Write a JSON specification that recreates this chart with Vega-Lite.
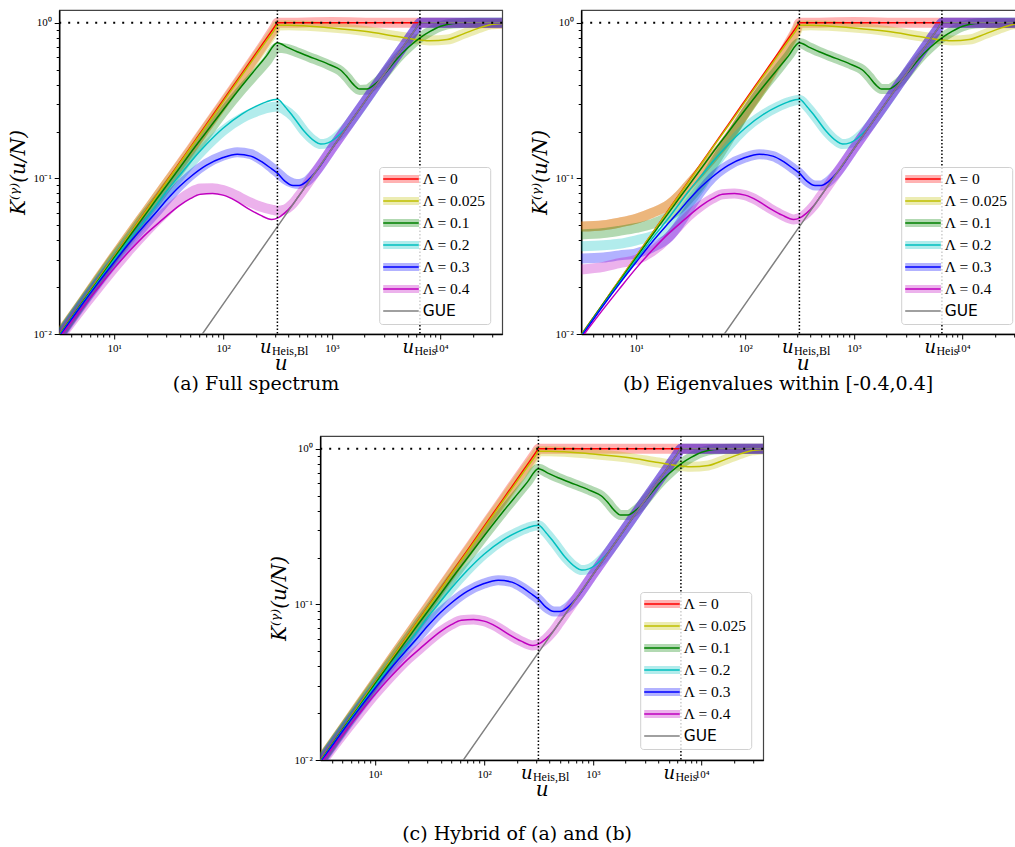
{
"$schema": "https://vega.github.io/schema/vega-lite/v6.json",
"background": "white",
"padding": {"left": 8, "top": 8, "right": 0, "bottom": 0},
"datasets": {"d": [
{"s":"0","u":3.12,"k":0.0099,"a":0.0099,"b":0.049},
{"s":"0","u":5,"k":0.0158,"a":0.0158,"b":0.05},
{"s":"0","u":7,"k":0.0222,"a":0.0222,"b":0.052},
{"s":"0","u":10,"k":0.0316,"a":0.0316,"b":0.055},
{"s":"0","u":14,"k":0.0443,"a":0.044,"b":0.06},
{"s":"0","u":20,"k":0.0633,"a":0.062,"b":0.068},
{"s":"0","u":25,"k":0.0791,"a":0.077,"b":0.078},
{"s":"0","u":30,"k":0.0949,"a":0.092,"b":0.09},
{"s":"0","u":40,"k":0.1266,"a":0.122,"b":0.113},
{"s":"0","u":50,"k":0.158,"a":0.152,"b":0.135},
{"s":"0","u":70,"k":0.2215,"a":0.213,"b":0.182},
{"s":"0","u":100,"k":0.3165,"a":0.303,"b":0.265},
{"s":"0","u":150,"k":0.4747,"a":0.455,"b":0.405},
{"s":"0","u":200,"k":0.633,"a":0.61,"b":0.56},
{"s":"0","u":250,"k":0.791,"a":0.77,"b":0.73},
{"s":"0","u":300,"k":0.949,"a":0.94,"b":0.92},
{"s":"0","u":316,"k":1,"a":1,"b":1},
{"s":"0","u":330,"k":1,"a":1,"b":1},
{"s":"0","u":1000,"k":1,"a":1.01,"b":1.01},
{"s":"0","u":3000,"k":1,"a":1,"b":1},
{"s":"0","u":10000,"k":1,"a":1,"b":1},
{"s":"0","u":36800,"k":1,"a":0.99,"b":0.99},
{"s":"0.025","u":3.12,"k":0.0099,"a":0.0099,"b":0.049},
{"s":"0.025","u":5,"k":0.0158,"a":0.0158,"b":0.05},
{"s":"0.025","u":7,"k":0.0222,"a":0.0222,"b":0.052},
{"s":"0.025","u":10,"k":0.0316,"a":0.0316,"b":0.055},
{"s":"0.025","u":14,"k":0.0442,"a":0.044,"b":0.06},
{"s":"0.025","u":20,"k":0.063,"a":0.062,"b":0.068},
{"s":"0.025","u":25,"k":0.0785,"a":0.077,"b":0.078},
{"s":"0.025","u":30,"k":0.094,"a":0.092,"b":0.09},
{"s":"0.025","u":40,"k":0.125,"a":0.121,"b":0.113},
{"s":"0.025","u":50,"k":0.156,"a":0.15,"b":0.135},
{"s":"0.025","u":70,"k":0.217,"a":0.21,"b":0.18},
{"s":"0.025","u":100,"k":0.31,"a":0.298,"b":0.26},
{"s":"0.025","u":150,"k":0.463,"a":0.445,"b":0.395},
{"s":"0.025","u":200,"k":0.615,"a":0.595,"b":0.55},
{"s":"0.025","u":250,"k":0.765,"a":0.745,"b":0.71},
{"s":"0.025","u":300,"k":0.91,"a":0.9,"b":0.89},
{"s":"0.025","u":316,"k":0.965,"a":0.96,"b":0.955},
{"s":"0.025","u":400,"k":0.965,"a":0.962,"b":0.962},
{"s":"0.025","u":1000,"k":0.925,"a":0.93,"b":0.93},
{"s":"0.025","u":2000,"k":0.88,"a":0.885,"b":0.885},
{"s":"0.025","u":4000,"k":0.815,"a":0.82,"b":0.82},
{"s":"0.025","u":6450,"k":0.775,"a":0.78,"b":0.78},
{"s":"0.025","u":8000,"k":0.765,"a":0.77,"b":0.77},
{"s":"0.025","u":11500,"k":0.78,"a":0.78,"b":0.78},
{"s":"0.025","u":16000,"k":0.845,"a":0.845,"b":0.845},
{"s":"0.025","u":23000,"k":0.93,"a":0.93,"b":0.93},
{"s":"0.025","u":29000,"k":0.975,"a":0.975,"b":0.975},
{"s":"0.025","u":36800,"k":0.99,"a":0.99,"b":0.99},
{"s":"0.1","u":3.12,"k":0.0098,"a":0.0098,"b":0.0436},
{"s":"0.1","u":5,"k":0.0157,"a":0.0157,"b":0.0445},
{"s":"0.1","u":7,"k":0.0218,"a":0.0218,"b":0.046},
{"s":"0.1","u":10,"k":0.031,"a":0.031,"b":0.048},
{"s":"0.1","u":14,"k":0.043,"a":0.0425,"b":0.051},
{"s":"0.1","u":20,"k":0.0605,"a":0.06,"b":0.057},
{"s":"0.1","u":25,"k":0.075,"a":0.073,"b":0.064},
{"s":"0.1","u":30,"k":0.089,"a":0.087,"b":0.073},
{"s":"0.1","u":40,"k":0.117,"a":0.113,"b":0.093},
{"s":"0.1","u":50,"k":0.145,"a":0.14,"b":0.12},
{"s":"0.1","u":70,"k":0.198,"a":0.19,"b":0.175},
{"s":"0.1","u":100,"k":0.275,"a":0.265,"b":0.262},
{"s":"0.1","u":150,"k":0.395,"a":0.375,"b":0.39},
{"s":"0.1","u":200,"k":0.505,"a":0.47,"b":0.5},
{"s":"0.1","u":250,"k":0.61,"a":0.56,"b":0.61},
{"s":"0.1","u":316,"k":0.744,"a":0.69,"b":0.74},
{"s":"0.1","u":390,"k":0.695,"a":0.68,"b":0.695},
{"s":"0.1","u":480,"k":0.651,"a":0.645,"b":0.651},
{"s":"0.1","u":685,"k":0.59,"a":0.585,"b":0.59},
{"s":"0.1","u":970,"k":0.535,"a":0.53,"b":0.535},
{"s":"0.1","u":1200,"k":0.497,"a":0.49,"b":0.497},
{"s":"0.1","u":1380,"k":0.45,"a":0.445,"b":0.45},
{"s":"0.1","u":1585,"k":0.4,"a":0.395,"b":0.4},
{"s":"0.1","u":1800,"k":0.375,"a":0.37,"b":0.375},
{"s":"0.1","u":2100,"k":0.375,"a":0.372,"b":0.375},
{"s":"0.1","u":2430,"k":0.398,"a":0.398,"b":0.398},
{"s":"0.1","u":2800,"k":0.435,"a":0.435,"b":0.435},
{"s":"0.1","u":3300,"k":0.5,"a":0.5,"b":0.5},
{"s":"0.1","u":4000,"k":0.59,"a":0.59,"b":0.59},
{"s":"0.1","u":5000,"k":0.69,"a":0.69,"b":0.69},
{"s":"0.1","u":6450,"k":0.8,"a":0.8,"b":0.8},
{"s":"0.1","u":8000,"k":0.88,"a":0.88,"b":0.88},
{"s":"0.1","u":10000,"k":0.95,"a":0.95,"b":0.95},
{"s":"0.1","u":13000,"k":0.99,"a":0.99,"b":0.99},
{"s":"0.1","u":20000,"k":1,"a":1,"b":1},
{"s":"0.1","u":36800,"k":1,"a":1,"b":1},
{"s":"0.2","u":3.12,"k":0.0097,"a":0.0097,"b":0.0366},
{"s":"0.2","u":5,"k":0.0155,"a":0.0155,"b":0.0372},
{"s":"0.2","u":7,"k":0.0214,"a":0.0214,"b":0.038},
{"s":"0.2","u":10,"k":0.03,"a":0.03,"b":0.04},
{"s":"0.2","u":14,"k":0.041,"a":0.041,"b":0.0425},
{"s":"0.2","u":20,"k":0.056,"a":0.056,"b":0.048},
{"s":"0.2","u":25,"k":0.069,"a":0.069,"b":0.057},
{"s":"0.2","u":30,"k":0.082,"a":0.081,"b":0.068},
{"s":"0.2","u":40,"k":0.105,"a":0.103,"b":0.09},
{"s":"0.2","u":50,"k":0.127,"a":0.124,"b":0.116},
{"s":"0.2","u":70,"k":0.165,"a":0.16,"b":0.16},
{"s":"0.2","u":100,"k":0.21,"a":0.202,"b":0.209},
{"s":"0.2","u":150,"k":0.26,"a":0.245,"b":0.258},
{"s":"0.2","u":200,"k":0.29,"a":0.268,"b":0.288},
{"s":"0.2","u":250,"k":0.31,"a":0.283,"b":0.308},
{"s":"0.2","u":316,"k":0.322,"a":0.29,"b":0.32},
{"s":"0.2","u":370,"k":0.29,"a":0.275,"b":0.29},
{"s":"0.2","u":440,"k":0.25,"a":0.25,"b":0.25},
{"s":"0.2","u":560,"k":0.2,"a":0.2,"b":0.2},
{"s":"0.2","u":690,"k":0.174,"a":0.174,"b":0.174},
{"s":"0.2","u":790,"k":0.166,"a":0.166,"b":0.166},
{"s":"0.2","u":920,"k":0.169,"a":0.169,"b":0.169},
{"s":"0.2","u":1100,"k":0.183,"a":0.183,"b":0.183},
{"s":"0.2","u":1300,"k":0.205,"a":0.205,"b":0.205},
{"s":"0.2","u":1600,"k":0.248,"a":0.248,"b":0.248},
{"s":"0.2","u":3000,"k":0.465,"a":0.465,"b":0.465},
{"s":"0.2","u":6000,"k":0.93,"a":0.93,"b":0.93},
{"s":"0.2","u":6450,"k":1,"a":1,"b":1},
{"s":"0.2","u":7000,"k":1,"a":1,"b":1},
{"s":"0.2","u":36800,"k":1,"a":1,"b":1},
{"s":"0.3","u":3.12,"k":0.0096,"a":0.0096,"b":0.0306},
{"s":"0.3","u":5,"k":0.0153,"a":0.0153,"b":0.031},
{"s":"0.3","u":7,"k":0.021,"a":0.021,"b":0.032},
{"s":"0.3","u":10,"k":0.029,"a":0.029,"b":0.033},
{"s":"0.3","u":14,"k":0.039,"a":0.039,"b":0.036},
{"s":"0.3","u":20,"k":0.052,"a":0.052,"b":0.042},
{"s":"0.3","u":25,"k":0.062,"a":0.062,"b":0.051},
{"s":"0.3","u":30,"k":0.072,"a":0.072,"b":0.062},
{"s":"0.3","u":40,"k":0.089,"a":0.09,"b":0.084},
{"s":"0.3","u":50,"k":0.102,"a":0.104,"b":0.101},
{"s":"0.3","u":70,"k":0.121,"a":0.124,"b":0.121},
{"s":"0.3","u":100,"k":0.136,"a":0.14,"b":0.136},
{"s":"0.3","u":135,"k":0.143,"a":0.147,"b":0.143},
{"s":"0.3","u":180,"k":0.139,"a":0.143,"b":0.139},
{"s":"0.3","u":230,"k":0.127,"a":0.13,"b":0.127},
{"s":"0.3","u":280,"k":0.115,"a":0.117,"b":0.115},
{"s":"0.3","u":316,"k":0.108,"a":0.109,"b":0.108},
{"s":"0.3","u":370,"k":0.096,"a":0.099,"b":0.096},
{"s":"0.3","u":440,"k":0.09,"a":0.093,"b":0.09},
{"s":"0.3","u":500,"k":0.09,"a":0.092,"b":0.09},
{"s":"0.3","u":580,"k":0.095,"a":0.095,"b":0.095},
{"s":"0.3","u":700,"k":0.1085,"a":0.1085,"b":0.1085},
{"s":"0.3","u":1000,"k":0.155,"a":0.155,"b":0.155},
{"s":"0.3","u":3000,"k":0.465,"a":0.465,"b":0.465},
{"s":"0.3","u":6000,"k":0.93,"a":0.93,"b":0.93},
{"s":"0.3","u":6450,"k":1,"a":1,"b":1},
{"s":"0.3","u":7000,"k":1,"a":1,"b":1},
{"s":"0.3","u":36800,"k":1,"a":1,"b":1},
{"s":"0.4","u":3.12,"k":0.0094,"a":0.0094,"b":0.026},
{"s":"0.4","u":5,"k":0.0145,"a":0.0145,"b":0.027},
{"s":"0.4","u":7,"k":0.0195,"a":0.0195,"b":0.0285},
{"s":"0.4","u":10,"k":0.0265,"a":0.0265,"b":0.03},
{"s":"0.4","u":14,"k":0.0345,"a":0.035,"b":0.034},
{"s":"0.4","u":20,"k":0.0445,"a":0.046,"b":0.042},
{"s":"0.4","u":25,"k":0.051,"a":0.054,"b":0.05},
{"s":"0.4","u":30,"k":0.057,"a":0.061,"b":0.057},
{"s":"0.4","u":40,"k":0.067,"a":0.073,"b":0.067},
{"s":"0.4","u":50,"k":0.074,"a":0.081,"b":0.074},
{"s":"0.4","u":62,"k":0.079,"a":0.086,"b":0.079},
{"s":"0.4","u":80,"k":0.08,"a":0.0865,"b":0.08},
{"s":"0.4","u":100,"k":0.078,"a":0.084,"b":0.078},
{"s":"0.4","u":130,"k":0.072,"a":0.078,"b":0.072},
{"s":"0.4","u":170,"k":0.064,"a":0.071,"b":0.064},
{"s":"0.4","u":220,"k":0.058,"a":0.066,"b":0.058},
{"s":"0.4","u":280,"k":0.0545,"a":0.063,"b":0.0545},
{"s":"0.4","u":316,"k":0.0555,"a":0.062,"b":0.0555},
{"s":"0.4","u":370,"k":0.06,"a":0.063,"b":0.06},
{"s":"0.4","u":430,"k":0.067,"a":0.068,"b":0.067},
{"s":"0.4","u":490,"k":0.076,"a":0.076,"b":0.076},
{"s":"0.4","u":700,"k":0.1085,"a":0.1085,"b":0.1085},
{"s":"0.4","u":1000,"k":0.155,"a":0.155,"b":0.155},
{"s":"0.4","u":3000,"k":0.465,"a":0.465,"b":0.465},
{"s":"0.4","u":6000,"k":0.93,"a":0.93,"b":0.93},
{"s":"0.4","u":6450,"k":1,"a":1,"b":1},
{"s":"0.4","u":7000,"k":1,"a":1,"b":1},
{"s":"0.4","u":36800,"k":1,"a":1,"b":1},
{"s":"GUE","u":60,"k":0.0093},
{"s":"GUE","u":300,"k":0.0465},
{"s":"GUE","u":1000,"k":0.155},
{"s":"GUE","u":3000,"k":0.465},
{"s":"GUE","u":6000,"k":0.93},
{"s":"GUE","u":6450,"k":1},
{"s":"GUE","u":36800,"k":1}
]},
"vconcat": [
{"hconcat": [
{
"width": 443, "height": 324,
"title": {"text": "(a) Full spectrum", "orient": "bottom", "anchor": "middle", "frame": "bounds", "offset": 2, "fontSize": 19},
"layer": [
{"data": {"name": "d"}, "transform": [{"filter": "datum.s != 'GUE'"}],
 "mark": {"type": "line", "interpolate": "monotone", "strokeWidth": 10, "strokeOpacity": 0.3, "clip": true, "strokeCap": "butt", "strokeJoin": "round"},
 "encoding": {
  "x": {"field": "u", "type": "quantitative", "scale": {"type": "log", "domain": [3.12, 36800], "nice": false},
   "axis": {"orient": "bottom", "title": "u", "values": [4,5,6,7,8,9,10,20,30,40,50,60,70,80,90,100,200,300,400,500,600,700,800,900,1000,2000,3000,4000,5000,6000,7000,8000,9000,10000,20000,30000],
    "labelExpr": "datum.value == 10 ? '10¹' : datum.value == 100 ? '10²' : datum.value == 1000 ? '10³' : datum.value == 10000 ? '10⁴' : ''",
    "tickSize": {"condition": {"test": "datum.value == 10 || datum.value == 100 || datum.value == 1000 || datum.value == 10000", "value": 5}, "value": 3},
    "labelFont": "Liberation Serif", "labelFontSize": 11, "labelPadding": 3,
    "titleFont": "DejaVu Serif", "titleFontStyle": "italic", "titleFontSize": 20, "titleFontWeight": "normal", "titlePadding": 0}},
  "y": {"field": "a", "type": "quantitative", "scale": {"type": "log", "domain": [0.01, 1.207], "nice": false},
   "axis": {"title": "K⁽ᵞ⁾(u/N)", "values": [0.01,0.02,0.03,0.04,0.05,0.06,0.07,0.08,0.09,0.1,0.2,0.3,0.4,0.5,0.6,0.7,0.8,0.9,1],
    "labelExpr": "datum.value == 0.01 ? '10⁻²' : datum.value == 0.1 ? '10⁻¹' : datum.value == 1 ? '10⁰' : ''",
    "tickSize": {"condition": {"test": "datum.value == 0.01 || datum.value == 0.1 || datum.value == 1", "value": 5}, "value": 3},
    "labelFont": "Liberation Serif", "labelFontSize": 11, "labelPadding": 3,
    "titleFont": "DejaVu Serif", "titleFontStyle": "italic", "titleFontSize": 20, "titleFontWeight": "normal", "titlePadding": 4}},
  "stroke": {"field": "s", "type": "nominal",
   "scale": {"domain": ["0","0.025","0.1","0.2","0.3","0.4"], "range": ["#ff0000","#bfbf00","#008000","#00bfbf","#0000ff","#bf00bf"]},
   "legend": {"orient": "none", "legendX": 320, "legendY": 157, "title": null, "symbolType": "stroke", "symbolSize": 1521, "symbolStrokeWidth": 8, "symbolOpacity": 0.3,
    "labelExpr": "''", "labelFont": "Liberation Serif", "labelFontSize": 15.5,
    "clipHeight": 16, "rowPadding": 5, "padding": 4, "symbolOffset": -7, "labelOffset": -4, "zindex": 2}}
 }},
{"data": {"name": "d"},
 "mark": {"type": "line", "interpolate": "monotone", "strokeWidth": 1.5, "clip": true},
 "encoding": {
  "x": {"field": "u", "type": "quantitative", "scale": {"type": "log", "domain": [3.12, 36800], "nice": false},
   "axis": {"orient": "bottom", "title": null, "values": [316, 6450], "labelExpr": "datum.value < 1000 ? 'Heis,Bl' : 'Heis'", "ticks": false, "domain": false,
    "labelFont": "Liberation Serif", "labelFontSize": 12, "labelAlign": "left", "labelBaseline": "alphabetic", "labelPadding": 20, "labelOffset": -6}},
  "y": {"field": "k", "type": "quantitative", "scale": {"type": "log", "domain": [0.01, 1.207], "nice": false},
   "axis": {"title": "K⁽ᵞ⁾(u/N)", "values": [0.01,0.02,0.03,0.04,0.05,0.06,0.07,0.08,0.09,0.1,0.2,0.3,0.4,0.5,0.6,0.7,0.8,0.9,1],
    "labelExpr": "datum.value == 0.01 ? '10⁻²' : datum.value == 0.1 ? '10⁻¹' : datum.value == 1 ? '10⁰' : ''",
    "tickSize": {"condition": {"test": "datum.value == 0.01 || datum.value == 0.1 || datum.value == 1", "value": 5}, "value": 3},
    "labelFont": "Liberation Serif", "labelFontSize": 11, "labelPadding": 3,
    "titleFont": "DejaVu Serif", "titleFontStyle": "italic", "titleFontSize": 20, "titleFontWeight": "normal", "titlePadding": 4}},
  "color": {"field": "s", "type": "nominal",
   "scale": {"domain": ["0","0.025","0.1","0.2","0.3","0.4","GUE"], "range": ["#ff0000","#bfbf00","#008000","#00bfbf","#0000ff","#bf00bf","#808080"]},
   "legend": {"orient": "none", "legendX": 320, "legendY": 157, "title": null, "symbolType": "stroke", "symbolSize": 1444, "symbolStrokeWidth": 1.6,
    "labelExpr": "datum.label == 'GUE' ? 'GUE' : 'Λ = ' + datum.label", "labelFont": "Liberation Serif", "labelFontSize": 15.5, "labelColor": "black",
    "clipHeight": 16, "rowPadding": 5, "padding": 4, "symbolOffset": -3.5, "labelOffset": 3,
    "fillColor": "rgba(255,255,255,0.8)", "strokeColor": "#d0d0d0", "cornerRadius": 3, "zindex": 1,
    "encode": {"labels": {"update": {"font": [{"test": "datum.value == 'GUE'", "value": "DejaVu Sans"}, {"value": "Liberation Serif"}]}}}}}
 }},
{"data": {"values": [{"k": 1}]},
 "mark": {"type": "rule", "strokeDash": [2, 7], "strokeWidth": 2, "color": "black"},
 "encoding": {"y": {"field": "k", "type": "quantitative", "scale": {"type": "log", "domain": [0.01, 1.207], "nice": false},
   "axis": {"title": "K⁽ᵞ⁾(u/N)", "values": [0.01,0.02,0.03,0.04,0.05,0.06,0.07,0.08,0.09,0.1,0.2,0.3,0.4,0.5,0.6,0.7,0.8,0.9,1],
    "labelExpr": "datum.value == 0.01 ? '10⁻²' : datum.value == 0.1 ? '10⁻¹' : datum.value == 1 ? '10⁰' : ''",
    "tickSize": {"condition": {"test": "datum.value == 0.01 || datum.value == 0.1 || datum.value == 1", "value": 5}, "value": 3},
    "labelFont": "Liberation Serif", "labelFontSize": 11, "labelPadding": 3,
    "titleFont": "DejaVu Serif", "titleFontStyle": "italic", "titleFontSize": 20, "titleFontWeight": "normal", "titlePadding": 4}}}},
{"data": {"values": [{"u": 316}, {"u": 6450}]},
 "mark": {"type": "rule", "strokeDash": [1.5, 2], "strokeWidth": 1.5, "color": "black"},
 "encoding": {"x": {"field": "u", "type": "quantitative", "scale": {"type": "log", "domain": [3.12, 36800], "nice": false},
   "axis": {"orient": "bottom", "title": null, "values": [316, 6450], "labelExpr": "'u'", "ticks": false, "domain": false,
    "labelFont": "DejaVu Serif", "labelFontStyle": "italic", "labelFontSize": 18, "labelAlign": "left", "labelBaseline": "alphabetic", "labelPadding": 18, "labelOffset": -18}}}}
],
"resolve": {"scale": {"x": "independent"}, "axis": {"x": "independent"}}
},
{
"width": 443, "height": 324,
"title": {"text": "(b) Eigenvalues within [-0.4,0.4]", "orient": "bottom", "anchor": "middle", "frame": "bounds", "offset": 2, "fontSize": 19},
"layer": [
{"data": {"name": "d"}, "transform": [{"filter": "datum.s != 'GUE'"}],
 "mark": {"type": "line", "interpolate": "monotone", "strokeWidth": 10, "strokeOpacity": 0.3, "clip": true, "strokeCap": "butt", "strokeJoin": "round"},
 "encoding": {
  "x": {"field": "u", "type": "quantitative", "scale": {"type": "log", "domain": [3.12, 36800], "nice": false},
   "axis": {"orient": "bottom", "title": "u", "values": [4,5,6,7,8,9,10,20,30,40,50,60,70,80,90,100,200,300,400,500,600,700,800,900,1000,2000,3000,4000,5000,6000,7000,8000,9000,10000,20000,30000],
    "labelExpr": "datum.value == 10 ? '10¹' : datum.value == 100 ? '10²' : datum.value == 1000 ? '10³' : datum.value == 10000 ? '10⁴' : ''",
    "tickSize": {"condition": {"test": "datum.value == 10 || datum.value == 100 || datum.value == 1000 || datum.value == 10000", "value": 5}, "value": 3},
    "labelFont": "Liberation Serif", "labelFontSize": 11, "labelPadding": 3,
    "titleFont": "DejaVu Serif", "titleFontStyle": "italic", "titleFontSize": 20, "titleFontWeight": "normal", "titlePadding": 0}},
  "y": {"field": "b", "type": "quantitative", "scale": {"type": "log", "domain": [0.01, 1.207], "nice": false},
   "axis": {"title": "K⁽ᵞ⁾(u/N)", "values": [0.01,0.02,0.03,0.04,0.05,0.06,0.07,0.08,0.09,0.1,0.2,0.3,0.4,0.5,0.6,0.7,0.8,0.9,1],
    "labelExpr": "datum.value == 0.01 ? '10⁻²' : datum.value == 0.1 ? '10⁻¹' : datum.value == 1 ? '10⁰' : ''",
    "tickSize": {"condition": {"test": "datum.value == 0.01 || datum.value == 0.1 || datum.value == 1", "value": 5}, "value": 3},
    "labelFont": "Liberation Serif", "labelFontSize": 11, "labelPadding": 3,
    "titleFont": "DejaVu Serif", "titleFontStyle": "italic", "titleFontSize": 20, "titleFontWeight": "normal", "titlePadding": 4}},
  "stroke": {"field": "s", "type": "nominal",
   "scale": {"domain": ["0","0.025","0.1","0.2","0.3","0.4"], "range": ["#ff0000","#bfbf00","#008000","#00bfbf","#0000ff","#bf00bf"]},
   "legend": {"orient": "none", "legendX": 320, "legendY": 157, "title": null, "symbolType": "stroke", "symbolSize": 1521, "symbolStrokeWidth": 8, "symbolOpacity": 0.3,
    "labelExpr": "''", "labelFont": "Liberation Serif", "labelFontSize": 15.5,
    "clipHeight": 16, "rowPadding": 5, "padding": 4, "symbolOffset": -7, "labelOffset": -4, "zindex": 2}}
 }},
{"data": {"name": "d"},
 "mark": {"type": "line", "interpolate": "monotone", "strokeWidth": 1.5, "clip": true},
 "encoding": {
  "x": {"field": "u", "type": "quantitative", "scale": {"type": "log", "domain": [3.12, 36800], "nice": false},
   "axis": {"orient": "bottom", "title": null, "values": [316, 6450], "labelExpr": "datum.value < 1000 ? 'Heis,Bl' : 'Heis'", "ticks": false, "domain": false,
    "labelFont": "Liberation Serif", "labelFontSize": 12, "labelAlign": "left", "labelBaseline": "alphabetic", "labelPadding": 20, "labelOffset": -6}},
  "y": {"field": "k", "type": "quantitative", "scale": {"type": "log", "domain": [0.01, 1.207], "nice": false},
   "axis": {"title": "K⁽ᵞ⁾(u/N)", "values": [0.01,0.02,0.03,0.04,0.05,0.06,0.07,0.08,0.09,0.1,0.2,0.3,0.4,0.5,0.6,0.7,0.8,0.9,1],
    "labelExpr": "datum.value == 0.01 ? '10⁻²' : datum.value == 0.1 ? '10⁻¹' : datum.value == 1 ? '10⁰' : ''",
    "tickSize": {"condition": {"test": "datum.value == 0.01 || datum.value == 0.1 || datum.value == 1", "value": 5}, "value": 3},
    "labelFont": "Liberation Serif", "labelFontSize": 11, "labelPadding": 3,
    "titleFont": "DejaVu Serif", "titleFontStyle": "italic", "titleFontSize": 20, "titleFontWeight": "normal", "titlePadding": 4}},
  "color": {"field": "s", "type": "nominal",
   "scale": {"domain": ["0","0.025","0.1","0.2","0.3","0.4","GUE"], "range": ["#ff0000","#bfbf00","#008000","#00bfbf","#0000ff","#bf00bf","#808080"]},
   "legend": {"orient": "none", "legendX": 320, "legendY": 157, "title": null, "symbolType": "stroke", "symbolSize": 1444, "symbolStrokeWidth": 1.6,
    "labelExpr": "datum.label == 'GUE' ? 'GUE' : 'Λ = ' + datum.label", "labelFont": "Liberation Serif", "labelFontSize": 15.5, "labelColor": "black",
    "clipHeight": 16, "rowPadding": 5, "padding": 4, "symbolOffset": -3.5, "labelOffset": 3,
    "fillColor": "rgba(255,255,255,0.8)", "strokeColor": "#d0d0d0", "cornerRadius": 3, "zindex": 1,
    "encode": {"labels": {"update": {"font": [{"test": "datum.value == 'GUE'", "value": "DejaVu Sans"}, {"value": "Liberation Serif"}]}}}}}
 }},
{"data": {"values": [{"k": 1}]},
 "mark": {"type": "rule", "strokeDash": [2, 7], "strokeWidth": 2, "color": "black"},
 "encoding": {"y": {"field": "k", "type": "quantitative", "scale": {"type": "log", "domain": [0.01, 1.207], "nice": false},
   "axis": {"title": "K⁽ᵞ⁾(u/N)", "values": [0.01,0.02,0.03,0.04,0.05,0.06,0.07,0.08,0.09,0.1,0.2,0.3,0.4,0.5,0.6,0.7,0.8,0.9,1],
    "labelExpr": "datum.value == 0.01 ? '10⁻²' : datum.value == 0.1 ? '10⁻¹' : datum.value == 1 ? '10⁰' : ''",
    "tickSize": {"condition": {"test": "datum.value == 0.01 || datum.value == 0.1 || datum.value == 1", "value": 5}, "value": 3},
    "labelFont": "Liberation Serif", "labelFontSize": 11, "labelPadding": 3,
    "titleFont": "DejaVu Serif", "titleFontStyle": "italic", "titleFontSize": 20, "titleFontWeight": "normal", "titlePadding": 4}}}},
{"data": {"values": [{"u": 316}, {"u": 6450}]},
 "mark": {"type": "rule", "strokeDash": [1.5, 2], "strokeWidth": 1.5, "color": "black"},
 "encoding": {"x": {"field": "u", "type": "quantitative", "scale": {"type": "log", "domain": [3.12, 36800], "nice": false},
   "axis": {"orient": "bottom", "title": null, "values": [316, 6450], "labelExpr": "'u'", "ticks": false, "domain": false,
    "labelFont": "DejaVu Serif", "labelFontStyle": "italic", "labelFontSize": 18, "labelAlign": "left", "labelBaseline": "alphabetic", "labelPadding": 18, "labelOffset": -18}}}}
],
"resolve": {"scale": {"x": "independent"}, "axis": {"x": "independent"}}
}
],
"spacing": 26,
"resolve": {"scale": {"color": "independent", "stroke": "independent"}, "legend": {"color": "independent", "stroke": "independent"}}
},
{
"width": 443, "height": 324,
"title": {"text": "(c) Hybrid of (a) and (b)", "orient": "bottom", "anchor": "middle", "frame": "bounds", "offset": 26, "fontSize": 19},
"layer": [
{"data": {"name": "d"}, "transform": [{"filter": "datum.s != 'GUE'"}],
 "mark": {"type": "line", "interpolate": "monotone", "strokeWidth": 10, "strokeOpacity": 0.3, "clip": true, "strokeCap": "butt", "strokeJoin": "round"},
 "encoding": {
  "x": {"field": "u", "type": "quantitative", "scale": {"type": "log", "domain": [3.12, 36800], "nice": false},
   "axis": {"orient": "bottom", "title": "u", "values": [4,5,6,7,8,9,10,20,30,40,50,60,70,80,90,100,200,300,400,500,600,700,800,900,1000,2000,3000,4000,5000,6000,7000,8000,9000,10000,20000,30000],
    "labelExpr": "datum.value == 10 ? '10¹' : datum.value == 100 ? '10²' : datum.value == 1000 ? '10³' : datum.value == 10000 ? '10⁴' : ''",
    "tickSize": {"condition": {"test": "datum.value == 10 || datum.value == 100 || datum.value == 1000 || datum.value == 10000", "value": 5}, "value": 3},
    "labelFont": "Liberation Serif", "labelFontSize": 11, "labelPadding": 3,
    "titleFont": "DejaVu Serif", "titleFontStyle": "italic", "titleFontSize": 20, "titleFontWeight": "normal", "titlePadding": 0}},
  "y": {"field": "k", "type": "quantitative", "scale": {"type": "log", "domain": [0.01, 1.207], "nice": false},
   "axis": {"title": "K⁽ᵞ⁾(u/N)", "values": [0.01,0.02,0.03,0.04,0.05,0.06,0.07,0.08,0.09,0.1,0.2,0.3,0.4,0.5,0.6,0.7,0.8,0.9,1],
    "labelExpr": "datum.value == 0.01 ? '10⁻²' : datum.value == 0.1 ? '10⁻¹' : datum.value == 1 ? '10⁰' : ''",
    "tickSize": {"condition": {"test": "datum.value == 0.01 || datum.value == 0.1 || datum.value == 1", "value": 5}, "value": 3},
    "labelFont": "Liberation Serif", "labelFontSize": 11, "labelPadding": 3,
    "titleFont": "DejaVu Serif", "titleFontStyle": "italic", "titleFontSize": 20, "titleFontWeight": "normal", "titlePadding": 4}},
  "stroke": {"field": "s", "type": "nominal",
   "scale": {"domain": ["0","0.025","0.1","0.2","0.3","0.4"], "range": ["#ff0000","#bfbf00","#008000","#00bfbf","#0000ff","#bf00bf"]},
   "legend": {"orient": "none", "legendX": 320, "legendY": 156, "title": null, "symbolType": "stroke", "symbolSize": 1521, "symbolStrokeWidth": 8, "symbolOpacity": 0.3,
    "labelExpr": "''", "labelFont": "Liberation Serif", "labelFontSize": 15.5,
    "clipHeight": 16, "rowPadding": 5, "padding": 4, "symbolOffset": -7, "labelOffset": -4, "zindex": 2}}
 }},
{"data": {"name": "d"},
 "mark": {"type": "line", "interpolate": "monotone", "strokeWidth": 1.5, "clip": true},
 "encoding": {
  "x": {"field": "u", "type": "quantitative", "scale": {"type": "log", "domain": [3.12, 36800], "nice": false},
   "axis": {"orient": "bottom", "title": null, "values": [316, 6450], "labelExpr": "datum.value < 1000 ? 'Heis,Bl' : 'Heis'", "ticks": false, "domain": false,
    "labelFont": "Liberation Serif", "labelFontSize": 12, "labelAlign": "left", "labelBaseline": "alphabetic", "labelPadding": 20, "labelOffset": -6}},
  "y": {"field": "k", "type": "quantitative", "scale": {"type": "log", "domain": [0.01, 1.207], "nice": false},
   "axis": {"title": "K⁽ᵞ⁾(u/N)", "values": [0.01,0.02,0.03,0.04,0.05,0.06,0.07,0.08,0.09,0.1,0.2,0.3,0.4,0.5,0.6,0.7,0.8,0.9,1],
    "labelExpr": "datum.value == 0.01 ? '10⁻²' : datum.value == 0.1 ? '10⁻¹' : datum.value == 1 ? '10⁰' : ''",
    "tickSize": {"condition": {"test": "datum.value == 0.01 || datum.value == 0.1 || datum.value == 1", "value": 5}, "value": 3},
    "labelFont": "Liberation Serif", "labelFontSize": 11, "labelPadding": 3,
    "titleFont": "DejaVu Serif", "titleFontStyle": "italic", "titleFontSize": 20, "titleFontWeight": "normal", "titlePadding": 4}},
  "color": {"field": "s", "type": "nominal",
   "scale": {"domain": ["0","0.025","0.1","0.2","0.3","0.4","GUE"], "range": ["#ff0000","#bfbf00","#008000","#00bfbf","#0000ff","#bf00bf","#808080"]},
   "legend": {"orient": "none", "legendX": 320, "legendY": 156, "title": null, "symbolType": "stroke", "symbolSize": 1444, "symbolStrokeWidth": 1.6,
    "labelExpr": "datum.label == 'GUE' ? 'GUE' : 'Λ = ' + datum.label", "labelFont": "Liberation Serif", "labelFontSize": 15.5, "labelColor": "black",
    "clipHeight": 16, "rowPadding": 5, "padding": 4, "symbolOffset": -3.5, "labelOffset": 3,
    "fillColor": "rgba(255,255,255,0.8)", "strokeColor": "#d0d0d0", "cornerRadius": 3, "zindex": 1,
    "encode": {"labels": {"update": {"font": [{"test": "datum.value == 'GUE'", "value": "DejaVu Sans"}, {"value": "Liberation Serif"}]}}}}}
 }},
{"data": {"values": [{"k": 1}]},
 "mark": {"type": "rule", "strokeDash": [2, 7], "strokeWidth": 2, "color": "black"},
 "encoding": {"y": {"field": "k", "type": "quantitative", "scale": {"type": "log", "domain": [0.01, 1.207], "nice": false},
   "axis": {"title": "K⁽ᵞ⁾(u/N)", "values": [0.01,0.02,0.03,0.04,0.05,0.06,0.07,0.08,0.09,0.1,0.2,0.3,0.4,0.5,0.6,0.7,0.8,0.9,1],
    "labelExpr": "datum.value == 0.01 ? '10⁻²' : datum.value == 0.1 ? '10⁻¹' : datum.value == 1 ? '10⁰' : ''",
    "tickSize": {"condition": {"test": "datum.value == 0.01 || datum.value == 0.1 || datum.value == 1", "value": 5}, "value": 3},
    "labelFont": "Liberation Serif", "labelFontSize": 11, "labelPadding": 3,
    "titleFont": "DejaVu Serif", "titleFontStyle": "italic", "titleFontSize": 20, "titleFontWeight": "normal", "titlePadding": 4}}}},
{"data": {"values": [{"u": 316}, {"u": 6450}]},
 "mark": {"type": "rule", "strokeDash": [1.5, 2], "strokeWidth": 1.5, "color": "black"},
 "encoding": {"x": {"field": "u", "type": "quantitative", "scale": {"type": "log", "domain": [3.12, 36800], "nice": false},
   "axis": {"orient": "bottom", "title": null, "values": [316, 6450], "labelExpr": "'u'", "ticks": false, "domain": false,
    "labelFont": "DejaVu Serif", "labelFontStyle": "italic", "labelFontSize": 18, "labelAlign": "left", "labelBaseline": "alphabetic", "labelPadding": 18, "labelOffset": -18}}}}
],
"resolve": {"scale": {"x": "independent"}, "axis": {"x": "independent"}}
}
],
"spacing": 39,
"center": true,
"resolve": {"scale": {"color": "independent", "stroke": "independent"}, "legend": {"color": "independent", "stroke": "independent"}},
"config": {
 "view": {"stroke": "#444", "strokeWidth": 1.2},
 "axis": {"domainColor": "black", "domainWidth": 1.5, "tickColor": "black", "tickWidth": 1, "labelColor": "black", "titleColor": "black", "grid": false, "labelOverlap": false, "labelFlush": false, "labelBound": false},
 "title": {"font": "DejaVu Serif", "fontWeight": "normal", "color": "black", "fontSize": 19}
}
}
